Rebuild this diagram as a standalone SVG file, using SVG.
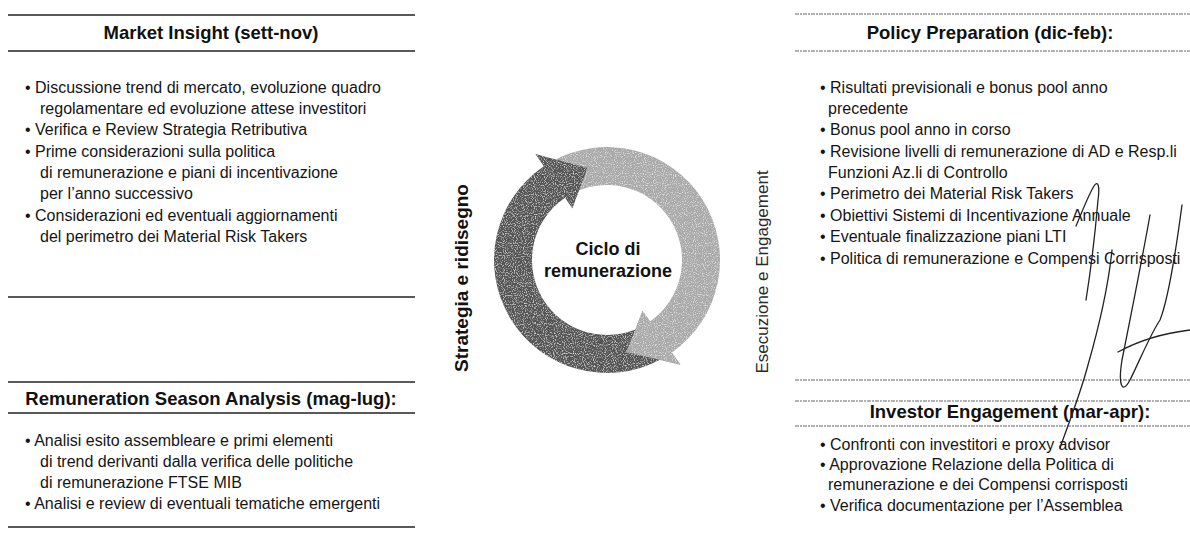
<svg xmlns="http://www.w3.org/2000/svg" width="1190" height="533" viewBox="0 0 1190 533">
<style>
.t{font-family:"Liberation Sans",Arial,sans-serif;font-size:16px;fill:#151515}
.h{font-family:"Liberation Sans",Arial,sans-serif;font-size:18.5px;font-weight:bold;fill:#111;text-anchor:middle}
.c{font-family:"Liberation Sans",Arial,sans-serif;font-size:18px;font-weight:bold;fill:#111;text-anchor:middle}
.rl{stroke:#222;stroke-width:1.6;fill:none}
.rr{stroke:#666;stroke-width:1;fill:none;stroke-dasharray:4 1 2 1}
.sig{stroke:#222;stroke-width:1.3;fill:none;stroke-linecap:round;stroke-linejoin:round}
</style>
<defs>
<filter id="grain" x="0" y="0" width="100%" height="100%">
<feTurbulence type="fractalNoise" baseFrequency="0.9" numOctaves="1" seed="3" result="n"/>
<feColorMatrix in="n" type="matrix" values="0 0 0 0 1 0 0 0 0 1 0 0 0 0 1 0 0 0 2.2 -1.1" result="w"/>
<feComposite in="w" in2="SourceGraphic" operator="in" result="ws"/>
<feMerge><feMergeNode in="SourceGraphic"/><feMergeNode in="ws"/></feMerge>
</filter>
</defs>
<rect width="1190" height="533" fill="#fff"/>

<g id="market-insight">
<line class="rl" x1="8" y1="15" x2="415" y2="15"/>
<text class="h" x="211" y="39">Market Insight (sett-nov)</text>
<line class="rl" x1="8" y1="51" x2="415" y2="51"/>
<text class="t" x="25" y="93">• Discussione trend di mercato, evoluzione quadro</text>
<text class="t" x="40" y="114">regolamentare ed evoluzione attese investitori</text>
<text class="t" x="25" y="135">• Verifica e Review Strategia Retributiva</text>
<text class="t" x="25" y="157">• Prime considerazioni sulla politica</text>
<text class="t" x="40" y="178">di remunerazione e piani di incentivazione</text>
<text class="t" x="40" y="199">per l’anno successivo</text>
<text class="t" x="25" y="221">• Considerazioni ed eventuali aggiornamenti</text>
<text class="t" x="40" y="242">del perimetro dei Material Risk Takers</text>
<line class="rl" x1="8" y1="297" x2="415" y2="297"/>
</g>

<g id="remuneration-season">
<line class="rl" x1="8" y1="382" x2="415" y2="382"/>
<text class="h" x="211" y="405">Remuneration Season Analysis (mag-lug):</text>
<line class="rl" x1="8" y1="413" x2="415" y2="413"/>
<text class="t" x="25" y="446">• Analisi esito assembleare e primi elementi</text>
<text class="t" x="40" y="467">di trend derivanti dalla verifica delle politiche</text>
<text class="t" x="40" y="488">di remunerazione FTSE MIB</text>
<text class="t" x="25" y="509">• Analisi e review di eventuali tematiche emergenti</text>
<line class="rl" x1="8" y1="527" x2="415" y2="527"/>
</g>

<g id="cycle">
<g filter="url(#grain)">
<path fill="#a9a9a9" d="M550.5,162.14 A113,113 0 0 1 671.81,352.57 L680.42,364.86 L626.54,351.94 L642.56,310.79 L650.02,321.44 A75,75 0 0 0 569.5,195.05 Z"/>
<path fill="#555555" d="M660.05,359.77 A113,113 0 0 1 543.81,166.32 L535.42,153.89 L587.46,168.06 L572.33,208.6 L565.06,197.82 A75,75 0 0 0 642.21,326.22 Z"/>
<path fill="#a9a9a9" d="M680.42,364.86 L626.54,351.94 L642.56,310.79 Z"/>
</g>
<text class="c" x="608" y="255">Ciclo di</text>
<text class="c" x="608" y="277">remunerazione</text>
</g>

<g id="strategia">
<text transform="translate(468,278) rotate(-90)" style="font-family:'Liberation Sans',Arial,sans-serif;font-size:19px;font-weight:bold;fill:#111;text-anchor:middle">Strategia e ridisegno</text>
</g>
<g id="esecuzione">
<text transform="translate(768,272) rotate(-90)" style="font-family:'Liberation Sans',Arial,sans-serif;font-size:17px;fill:#2a2a2a;text-anchor:middle">Esecuzione e Engagement</text>
</g>

<g id="policy-preparation">
<line class="rr" x1="795" y1="14" x2="1190" y2="14"/>
<text class="h" x="990" y="39">Policy Preparation (dic-feb):</text>
<line class="rr" x1="795" y1="51" x2="1190" y2="51"/>
<text class="t" x="820" y="93">• Risultati previsionali e bonus pool anno</text>
<text class="t" x="828" y="114">precedente</text>
<text class="t" x="820" y="135">• Bonus pool anno in corso</text>
<text class="t" x="820" y="157">• Revisione livelli di remunerazione di AD e Resp.li</text>
<text class="t" x="828" y="178">Funzioni Az.li di Controllo</text>
<text class="t" x="820" y="199">• Perimetro dei Material Risk Takers</text>
<text class="t" x="820" y="221">• Obiettivi Sistemi di Incentivazione Annuale</text>
<text class="t" x="820" y="242">• Eventuale finalizzazione piani LTI</text>
<text class="t" x="820" y="264">• Politica di remunerazione e Compensi Corrisposti</text>
</g>

<g id="investor-engagement">
<line class="rr" x1="795" y1="380" x2="1190" y2="380"/>
<line class="rr" x1="795" y1="401" x2="1190" y2="401"/>
<text class="h" x="1010" y="418">Investor Engagement (mar-apr):</text>
<line class="rr" x1="795" y1="426" x2="1190" y2="426"/>
<text class="t" x="820" y="450">• Confronti con investitori e proxy advisor</text>
<text class="t" x="820" y="470">• Approvazione Relazione della Politica di</text>
<text class="t" x="828" y="490">remunerazione e dei Compensi corrisposti</text>
<text class="t" x="820" y="511">• Verifica documentazione per l’Assemblea</text>
</g>

<g id="signature">
<path class="sig" d="M1076,226 C1082,212 1088,196 1094,186 C1098,180 1100,186 1098,200 C1095,235 1090,275 1086,300"/>
<path class="sig" d="M1112,250 C1108,290 1098,330 1088,365 C1080,395 1068,425 1060,448"/>
<path class="sig" d="M1150,215 C1142,260 1130,320 1122,360 C1118,385 1122,395 1130,380 C1140,360 1150,335 1160,320 C1168,300 1176,250 1182,205"/>
<path class="sig" d="M1118,352 C1140,340 1165,333 1190,330"/>
</g>
</svg>
